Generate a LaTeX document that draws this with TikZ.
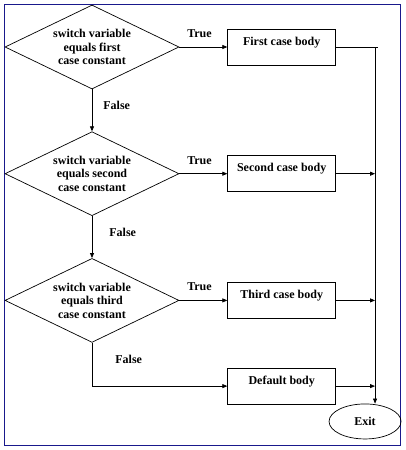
\documentclass[tikz,border=0pt]{standalone}
\usepackage{fontspec}
\setmainfont{Liberation Serif}
\usetikzlibrary{arrows.meta, positioning, shapes.geometric}
\definecolor{framecol}{RGB}{25,25,140}

\begin{document}
\begin{tikzpicture}[
    x=1pt, y=-1pt,
    line width=0.7pt,
    every node/.style={
        font=\bfseries\fontsize{12}{13.5}\selectfont,
        align=center
    },
    decision/.style={
        draw,
        diamond,
        aspect=2.07,
        inner sep=0pt,
        minimum width=174pt,
        minimum height=84pt
    },
    casebox/.style={
        draw,
        minimum width=108pt,
        minimum height=36pt,
        text height=8pt,
        text depth=12pt
    },
    exitnode/.style={
        draw,
        ellipse,
        minimum width=72pt,
        minimum height=35pt
    },
    lbl/.style={draw=none, inner sep=3pt},
    arrow/.style={-{Triangle[length=5pt,width=4pt]}},
    node distance=42pt
]

\useasboundingbox (0,0) rectangle (405,450);
\draw[framecol, line width=1pt] (4,4) rectangle (400,445);

% ------------------------
% Decisions (left)
% ------------------------
\node[decision] (d1) at (92,47)
{switch variable\\ equals first\\ case constant};

\node[decision, below=of d1] (d2)
{switch variable\\ equals second\\ case constant};

\node[decision, below=of d2] (d3)
{switch variable\\ equals third\\ case constant};

% ------------------------
% Case bodies (middle)
% ------------------------
\node[casebox, right=48pt of d1] (b1) {First case body};
\node[casebox, right=48pt of d2] (b2) {Second case body};
\node[casebox, right=48pt of d3] (b3) {Third case body};
\node[casebox, below=49pt of b3] (b4) {Default body};

% ------------------------
% Exit (bottom right)
% ------------------------
\node[exitnode] (exit) at ([xshift=29pt,yshift=-17pt]b4.south east) {Exit};

\coordinate (top) at ([xshift=39pt]b1.east);
\coordinate (tail) at ([xshift=42pt]b1.east);

% ------------------------
% Arrows
% ------------------------
\draw[arrow] (d1) -- node[lbl, pos=0.42, above=6pt] {True} (b1);
\draw[arrow] (d2) -- node[lbl, pos=0.42, above=6pt] {True} (b2);
\draw[arrow] (d3) -- node[lbl, pos=0.42, above=6pt] {True} (b3);

\draw[arrow] (d1) -- node[lbl, pos=0.38, right=8pt] {False} (d2);
\draw[arrow] (d2) -- node[lbl, pos=0.38, right=14pt] {False} (d3);
\draw[arrow] (d3.south) |- node[lbl, pos=0.19, right=20pt] {False} (b4.west);

\draw (b1.east) -- (tail);
\draw[arrow] (b2) -- (b2 -| top);
\draw[arrow] (b3) -- (b3 -| top);
\draw[arrow] (b4) -- (b4 -| top);
\draw[arrow] (top) -- (top |- exit.north);

\end{tikzpicture}
\end{document}
